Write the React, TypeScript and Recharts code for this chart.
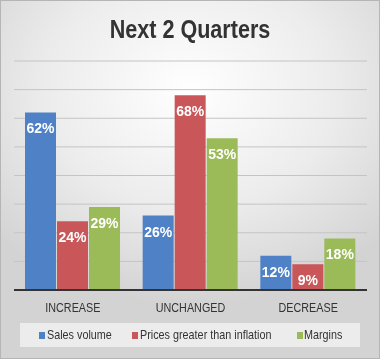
import { BarChart, Bar, XAxis, YAxis, CartesianGrid, LabelList, Legend } from "recharts";

const categories = ["INCREASE", "UNCHANGED", "DECREASE"];
const salesVolume = [62, 26, 12];
const pricesAboveInflation = [24, 68, 9];
const margins = [29, 53, 18];
const yTicks = [0, 10, 20, 30, 40, 50, 60, 70, 80];

const series = [
  { key: "sales", name: "Sales volume", color: "#4f81c6" },
  { key: "prices", name: "Prices greater than inflation", color: "#c9575a" },
  { key: "margins", name: "Margins", color: "#9bbb59" },
];

const data = categories.map((c, i) => ({
  name: c,
  sales: salesVolume[i],
  prices: pricesAboveInflation[i],
  margins: margins[i],
}));

const sans = "'Liberation Sans', Arial, sans-serif";
// no narrow font installed, so squeeze the regular one
const squeeze = 0.83;

// legend item offsets inside the legend box (square x, text x)
const legendPos = [
  [19, 27],
  [112, 120],
  [277, 284],
];

const renderLegend = () => (
  <div style={{ position: "relative", background: "#ececec", height: 24, width: 340 }}>
    {series.map((s, i) => (
      <div key={s.key}>
        <span
          style={{
            position: "absolute",
            left: legendPos[i][0],
            top: 9,
            width: 6,
            height: 7,
            background: s.color,
          }}
        />
        <span
          style={{
            position: "absolute",
            left: legendPos[i][1],
            top: 4,
            fontFamily: sans,
            fontSize: 13.5,
            lineHeight: "15px",
            color: "#333",
            whiteSpace: "nowrap",
            transform: `scaleX(0.8)`,
            transformOrigin: "left center",
          }}
        >
          {s.name}
        </span>
      </div>
    ))}
  </div>
);

const NarrowTick = (props: any) => {
  const { x, y, payload } = props;
  return (
    <text
      transform={`translate(${x},${y + 14}) scale(${squeeze},1)`}
      textAnchor="middle"
      fill="#333"
      fontSize={13}
      fontFamily={sans}
    >
      {payload.value}
    </text>
  );
};

export default function App() {
  return (
    <div
      style={{
        position: "fixed",
        left: 0,
        top: 0,
        width: 380,
        height: 359,
        boxSizing: "border-box",
        border: "1px solid #b5b5b5",
        background: "radial-gradient(ellipse 70% 60% at 50% 25%, #ffffff 0%, #ececec 55%, #d3d3d3 100%)",
        overflow: "hidden",
      }}
    >
      <div
        style={{
          position: "absolute",
          top: 12,
          left: 0,
          width: "100%",
          textAlign: "center",
          fontFamily: sans,
          fontWeight: "bold",
          fontSize: 26,
          color: "#333",
          lineHeight: "32px",
          transform: `scaleX(${squeeze})`,
        }}
      >
        Next 2 Quarters
      </div>
      <div style={{ position: "absolute", left: -1, top: -1 }}>
        <BarChart
          width={380}
          height={359}
          data={data}
          margin={{ top: 61, right: 13, left: 14, bottom: 15 }}
          barSize={31}
          barGap={1}
        >
          <CartesianGrid vertical={false} stroke="#c4c4c4" strokeWidth={1} />
          <YAxis hide domain={[0, 80]} ticks={yTicks} />
          <XAxis
            dataKey="name"
            axisLine={{ stroke: "#333", strokeWidth: 2 }}
            tickLine={false}
            height={30}
            tick={<NarrowTick />}
          />
          {series.map((s) => (
            <Bar key={s.key} dataKey={s.key} name={s.name} fill={s.color} isAnimationActive={false}>
              <LabelList
                dataKey={s.key}
                position="insideTop"
                offset={11}
                formatter={(v: number) => `${v}%`}
                fill="#fff"
                style={{ fontFamily: sans, fontWeight: "bold", fontSize: 14 }}
              />
            </Bar>
          ))}
          <Legend content={renderLegend} height={24} wrapperStyle={{ top: 323, left: 20, width: 340, height: 24 }} />
        </BarChart>
      </div>
    </div>
  );
}
